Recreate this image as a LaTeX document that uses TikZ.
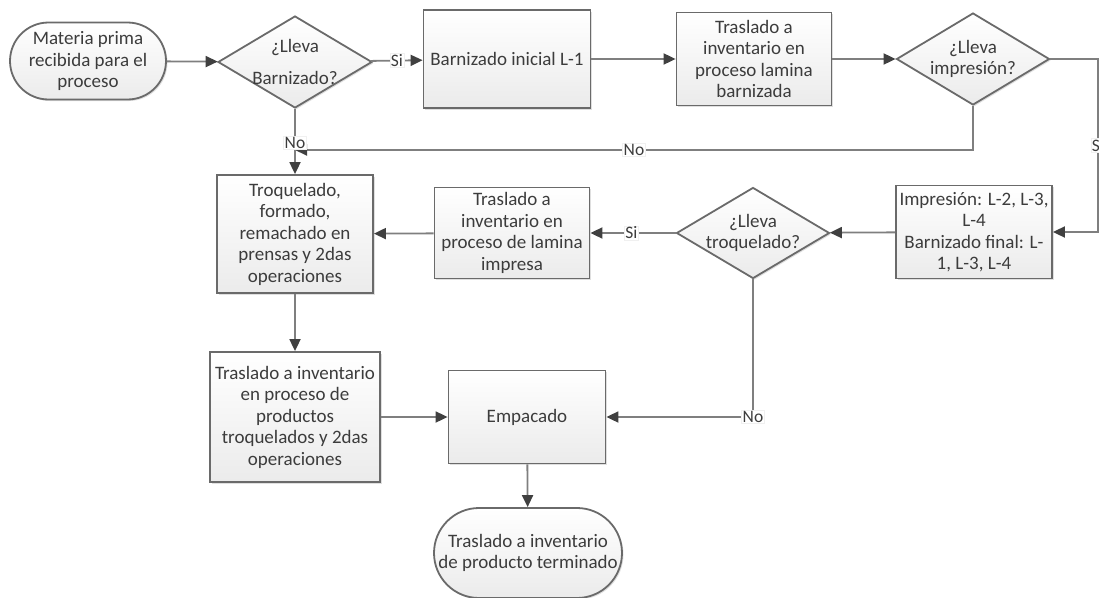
\documentclass[tikz,border=0pt]{standalone}
\usepackage{fontspec}
\setmainfont{Carlito}
\usetikzlibrary{arrows.meta,shapes.geometric,shapes.misc,shadows}
\definecolor{linec}{HTML}{7F7F7F}
\definecolor{tipc}{HTML}{404040}
\definecolor{borderc}{HTML}{6A6A6A}
\definecolor{textc}{HTML}{3C3C3C}
\definecolor{fillb}{HTML}{EBEBEB}
\tikzset{
  base/.style={draw=borderc, line width=1.8pt, top color=white, bottom color=fillb,
    text=textc, align=center, font=\fontsize{19}{21.5}\selectfont,
    drop shadow={shadow xshift=1.5pt, shadow yshift=-1.5pt, opacity=0.25}},
  procbox/.style={base, rectangle, inner sep=0pt},
  decision/.style={base, diamond, inner sep=-6pt, aspect=1.67},
  terminal/.style={base, rounded rectangle, inner sep=0pt},
  conn/.style={draw=linec, line width=1.8pt, -{Triangle[length=12pt,width=11pt,color=tipc]}},
  lbl/.style={fill=white, draw=gray!12, line width=0.6pt, inner sep=1pt, text=textc,
    font=\fontsize{17.5}{20}\selectfont}
}
\begin{document}
\begin{tikzpicture}[x=1pt,y=-1pt]
\useasboundingbox (0,0) rectangle (1099,597);
% nodes
\node[terminal, minimum width=156pt, minimum height=77pt] (start) at (88,61) {Materia prima\\recibida para el\\proceso};
\node[decision, minimum width=154pt, minimum height=92pt] (d1) at (295,62) {¿Lleva\\[10pt]Barnizado?};
\node[procbox, minimum width=167pt, minimum height=98pt] (b1) at (507,59) {Barnizado inicial L-1};
\node[procbox, minimum width=155pt, minimum height=93pt] (b2) at (754,59) {Traslado a\\inventario en\\proceso lamina\\barnizada};
\node[decision, minimum width=153pt, minimum height=92pt] (d2) at (973,59) {¿Lleva\\impresión?};
\node[procbox, minimum width=156pt, minimum height=118pt] (trq) at (295,234) {Troquelado,\\formado,\\remachado en\\prensas y 2das\\operaciones};
\node[procbox, minimum width=155pt, minimum height=91pt] (tli) at (512,233) {Traslado a\\inventario en\\proceso de lamina\\impresa};
\node[decision, minimum width=153pt, minimum height=91pt] (d3) at (753,233) {¿Lleva\\troquelado?};
\node[procbox, minimum width=156pt, minimum height=93pt] (imp) at (974,232) {Impresión: L-2, L-3,\\L-4\\Barnizado final: L-\\1, L-3, L-4};
\node[procbox, minimum width=170pt, minimum height=130pt] (tp) at (295,417) {Traslado a inventario\\en proceso de\\productos\\troquelados y 2das\\operaciones};
\node[procbox, minimum width=157pt, minimum height=93pt] (emp) at (527,417) {Empacado};
\node[terminal, minimum width=188pt, minimum height=90pt] (fin) at (528,553) {Traslado a inventario\\de producto terminado};
% helper coordinates
\coordinate (r1) at (1098,59);
\coordinate (r2) at (1098,232);
\coordinate (n1) at (973,150);
\coordinate (n2) at (295,150);
\coordinate (c3) at (753,417);
% connectors
\draw[conn] (start) -- (d1);
\draw[conn] (d1) -- node[lbl]{Si} (b1);
\draw[conn] (b1) -- (b2);
\draw[conn] (b2) -- (d2);
\draw[conn] (d2.east) -- (r1) -- node[lbl, pos=0.5]{Si} (r2) -- (imp.east);
\draw[conn] (d2.south) -- (n1) -- node[lbl]{No} (n2);
\draw[conn] (d1.south) -- node[lbl, pos=0.52]{No} (trq.north);
\draw[conn] (imp) -- (d3);
\draw[conn] (d3) -- node[lbl, pos=0.52]{Si} (tli);
\draw[conn] (tli) -- (trq);
\draw[conn] (trq) -- (tp);
\draw[conn] (tp) -- (emp);
\draw[conn] (d3.south) -- (c3) -- (emp.east);
\node[lbl] (nolbl) at (c3) {No};
\draw[conn] (emp) -- (fin);
\end{tikzpicture}
\end{document}
